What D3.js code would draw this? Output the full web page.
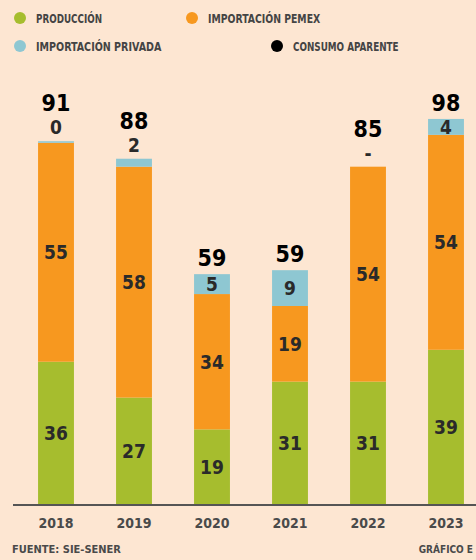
<!DOCTYPE html>
<html>
<head>
<meta charset="utf-8">
<script src="https://cdn.jsdelivr.net/npm/d3@7"></script>
<style>
  body { margin: 0; background: #fde6d2; }
  svg { display: block; }
  text { font-family: "DejaVu Sans Condensed", "Liberation Sans Narrow", sans-serif; }
</style>
</head>
<body>
<div id="vis-holder"></div>
<script>
// Data
const years = ["2018", "2019", "2020", "2021", "2022", "2023"];
const produccion = [36, 27, 19, 31, 31, 39];
const pemex = [55, 58, 34, 19, 54, 54];
const privada = [0.4, 2, 5, 9, 0, 4];
const privadaLabels = ["0", "2", "5", "9", "-", "4"];
const consumo = [91, 88, 59, 59, 85, 98];

const width = 476;
const height = 560;
const margin = { top: 70, right: 0, bottom: 55, left: 13 };

const colors = { prod: "#a6bd2e", pemex: "#f7981f", priv: "#8ec7d2", total: "#000" };

const svg = d3.select("#vis-holder")
  .append("svg")
  .attr("width", width)
  .attr("height", height);

svg.append("rect").attr("width", width).attr("height", height).attr("fill", "#fde6d2");

// Scales
const x = d3.scaleBand()
  .domain(years)
  .range([17, 485])
  .paddingInner(0.54)
  .paddingOuter(0.27);

const baseY = 505;
const y = d3.scaleLinear()
  .domain([0, 100])
  .range([baseY, baseY - 398]);

const rows = years.map((yr, i) => ({
  year: yr, prod: produccion[i], pemex: pemex[i], priv: privada[i],
  privLabel: privadaLabels[i], total: consumo[i]
}));

const stack = d3.stack().keys(["prod", "pemex", "priv"])(rows);

// Bars
svg.append("g")
  .selectAll("g")
  .data(stack)
  .join("g")
    .attr("fill", (d) => colors[d.key])
  .selectAll("rect")
  .data((d) => d)
  .join("rect")
    .attr("x", (d) => x(d.data.year))
    .attr("y", (d) => y(d[1]))
    .attr("width", x.bandwidth())
    .attr("height", (d) => y(d[0]) - y(d[1]));

// Segment labels (production and pemex inside bars)
const segLabels = svg.append("g")
  .attr("font-size", "19px")
  .attr("font-weight", "bold")
  .attr("fill", "#2a2a2a")
  .attr("text-anchor", "middle");

stack.slice(0, 2).forEach((layer) => {
  segLabels.selectAll(null)
    .data(layer)
    .join("text")
      .attr("x", (d) => x(d.data.year) + x.bandwidth() / 2)
      .attr("y", (d) => (y(d[0]) + y(d[1])) / 2 + 7)
      .text((d) => d.data[layer.key]);
});

// Private import labels: inside if big enough, above otherwise
segLabels.selectAll(null)
  .data(stack[2])
  .join("text")
    .attr("x", (d) => x(d.data.year) + x.bandwidth() / 2)
    .attr("y", (d) => (y(d[0]) - y(d[1]) > 15 ? (y(d[0]) + y(d[1])) / 2 + 7 : y(d[1]) - 7))
    .text((d) => d.data.privLabel);

// Totals
svg.append("g")
  .attr("font-size", "23px")
  .attr("font-weight", "bold")
  .attr("fill", colors.total)
  .attr("text-anchor", "middle")
  .selectAll("text")
  .data(rows)
  .join("text")
    .attr("x", (d) => x(d.year) + x.bandwidth() / 2)
    .attr("y", (d) => {
      const top = y(d.prod + d.pemex + d.priv);
      return top - (d.priv < 3 ? 30 : 8);
    })
    .text((d) => d.total);

// Baseline axis
svg.append("g")
  .attr("transform", `translate(0,${baseY})`)
  .call(d3.axisBottom(x).tickSize(0).tickPadding(13))
  .call((g) => g.select(".domain").attr("stroke", "#555").attr("stroke-width", 2).attr("d", `M${margin.left},0H${width}`))
  .call((g) => g.selectAll("text")
    .attr("font-size", "14px")
    .attr("font-weight", "bold")
    .attr("fill", "#4a4a4a"));

// Footer
svg.append("text")
  .attr("x", 12).attr("y", 553)
  .attr("font-size", "11px").attr("font-weight", "bold").attr("fill", "#4a4a4a")
  .text("FUENTE: SIE-SENER");
svg.append("text")
  .attr("x", 473).attr("y", 553)
  .attr("text-anchor", "end")
  .attr("font-size", "10px").attr("font-weight", "bold").attr("fill", "#4a4a4a")
  .text("GRÁFICO E");

// Legend
const legendItems = [
  { label: "PRODUCCIÓN", color: colors.prod, x: 20, y: 18 },
  { label: "IMPORTACIÓN PEMEX", color: colors.pemex, x: 192, y: 18 },
  { label: "IMPORTACIÓN PRIVADA", color: colors.priv, x: 20, y: 46 },
  { label: "CONSUMO APARENTE", color: colors.total, x: 277, y: 46 }
];

const legend = svg.append("g")
  .selectAll("g")
  .data(legendItems)
  .join("g")
    .attr("transform", (d) => `translate(${d.x},${d.y})`);

legend.append("circle").attr("r", 6).attr("fill", (d) => d.color);
legend.append("text")
  .attr("x", 16).attr("y", 5)
  .attr("font-size", "12px").attr("font-weight", "bold").attr("fill", "#444")
  .attr("textLength", (d) => d.label.length * 6.6)
  .attr("lengthAdjust", "spacingAndGlyphs")
  .text((d) => d.label);
</script>
</body>
</html>
